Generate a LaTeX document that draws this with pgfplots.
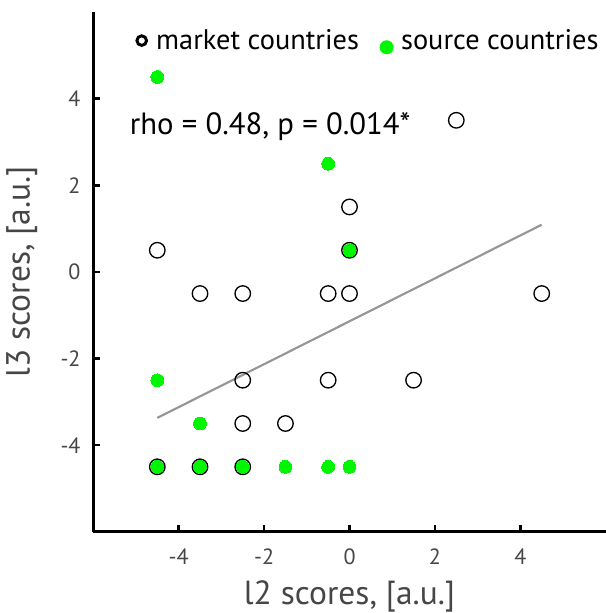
\documentclass[border=0pt]{standalone}
\usepackage{pgfplots}
\pgfplotsset{compat=1.18}
\usepackage{fontspec}
\setmainfont{PT Sans}
\definecolor{gr}{RGB}{0,245,0}
\definecolor{tickgray}{RGB}{70,70,70}
\definecolor{linegray}{RGB}{150,150,150}
\begin{document}
\begin{tikzpicture}
\begin{axis}[
  name=ax,
  scale only axis,
  width=383.4pt, height=388.8pt,
  xmin=-6, xmax=6, ymin=-6, ymax=6,
  axis x line*=bottom, axis y line*=left,
  axis line style={line width=2pt, black, -},
  xtick={-4,-2,0,2,4}, ytick={-4,-2,0,2,4},
  tick style={line width=2pt, black},
  major tick length=5pt,
  tick align=inside,
  /pgf/number format/assume math mode=true,
  ticklabel style={font=\fontsize{16.5}{19}\selectfont, text=tickgray},
  xticklabel style={yshift=-9pt},
  yticklabel style={xshift=-6pt},
  xlabel={l2 scores, [a.u.]},
  ylabel={l3 scores, [a.u.]},
  label style={font=\fontsize{25}{28}\selectfont, text=tickgray},
  xlabel style={yshift=-5pt},
  ylabel style={yshift=10.5pt},
  clip=false,
  legend columns=2,
  legend style={at={(0.074,0.945)}, anchor=west, draw=none, fill=none,
    font=\fontsize{21.2}{25}\selectfont,
    /tikz/every even column/.append style={column sep=13.5pt}},
]
\addplot[only marks, mark=o, mark size=5.8pt, mark options={line width=1pt, black},
  legend image code/.code={\path[draw=none,fill=none] (0cm,-0.01cm) rectangle (0.36cm,0.01cm); \draw[black, line width=2.2pt] (0.05cm,0cm) circle (3.6pt);}]
  coordinates {
  (-4.5,0.5) (-3.5,-0.5) (-2.5,-0.5) (-0.5,-0.5) (0,-0.5) (0,1.5) (0,0.5)
  (2.5,3.5) (4.5,-0.5) (-2.5,-2.5) (-0.5,-2.5) (1.5,-2.5) (-2.5,-3.5) (-1.5,-3.5)
  (-4.5,-4.5) (-3.5,-4.5) (-2.5,-4.5)
  };
\addlegendentry{market countries}
\addplot[gr, only marks, mark=*, mark size=4.8pt, mark options={draw=gr, fill=gr, line width=0pt},
  legend image code/.code={\path[draw=none,fill=none] (0cm,-0.01cm) rectangle (0.36cm,0.01cm); \fill[gr] (0.05cm,-5pt) circle (5pt);}]
  coordinates {
  (-4.5,4.5) (-0.5,2.5) (0,0.5) (-4.5,-2.5) (-3.5,-3.5)
  (-4.5,-4.5) (-3.5,-4.5) (-2.5,-4.5) (-1.5,-4.5) (-0.5,-4.5) (0,-4.5)
  };
\addlegendentry{source countries}
\addplot[linegray, line width=1.6pt, no marks] coordinates {(-4.5,-3.37) (4.5,1.09)};
\node[anchor=west, font=\fontsize{23}{27}\selectfont, inner sep=0pt] at (axis cs:-5.15,3.36) {rho = 0.48, p = 0.014*};
\end{axis}
\pgfresetboundingbox
\path[use as bounding box] ([xshift=-69.75pt,yshift=-60.75pt]ax.south west) rectangle ([yshift=9pt]ax.north east);
\end{tikzpicture}
\end{document}
